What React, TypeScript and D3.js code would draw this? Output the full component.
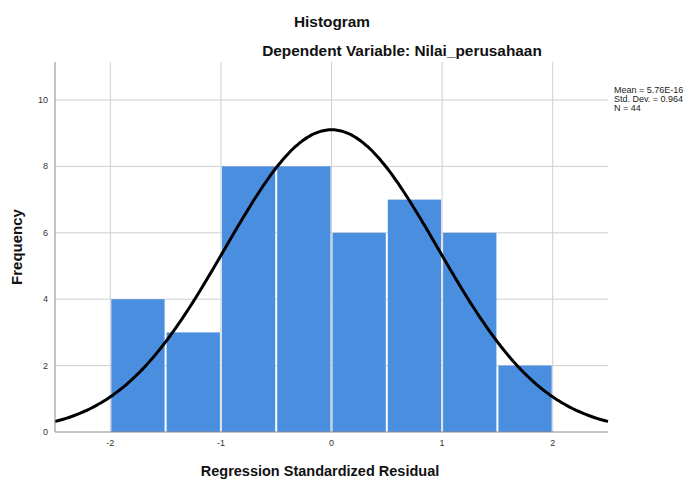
import React from "react";
import * as d3 from "d3";

const binStarts = [-2, -1.5, -1, -0.5, 0, 0.5, 1, 1.5];
const binWidth = 0.5;
const counts = [4, 3, 8, 8, 6, 7, 6, 2];
const xTicks = [-2, -1, 0, 1, 2];
const yTicks = [0, 2, 4, 6, 8, 10];
const statsLines = ["Mean = 5.76E-16", "Std. Dev. = 0.964", "N = 44"];
const mean = 0;
const sd = 0.964;
const n = 44;

const W = 696, H = 480;
const left = 55, right = 608, top = 62, bottom = 432;

export default function App() {
  const x = d3.scaleLinear().domain([-2.5, 2.5]).range([left, right]);
  const y = d3.scaleLinear().domain([0, 10]).range([bottom, 100]);
  const font = "'Liberation Sans', Arial, sans-serif";

  const curvePts = d3.range(0, 201).map((i) => {
    const v = -2.5 + (5 * i) / 200;
    const d = (n * binWidth) / (sd * Math.sqrt(2 * Math.PI)) * Math.exp(-0.5 * ((v - mean) / sd) ** 2);
    return [v, d] as [number, number];
  });
  const line = d3.line<[number, number]>().x((d) => x(d[0])).y((d) => y(d[1])).curve(d3.curveBasis);

  return (
    <svg width={W} height={H} style={{ position: "absolute", left: 0, top: 0, background: "#fff" }}>
      <rect x={0} y={0} width={W} height={H} fill="#fff" />
      {yTicks.filter((t) => t > 0).map((t) => (
        <line key={"gy" + t} x1={left} x2={right} y1={y(t)} y2={y(t)} stroke="#cfcfcf" strokeWidth={1} />
      ))}
      {xTicks.map((t) => (
        <line key={"gx" + t} x1={x(t)} x2={x(t)} y1={top} y2={bottom} stroke="#cfcfcf" strokeWidth={1} />
      ))}
      {binStarts.map((b, i) => (
        <rect
          key={"b" + i}
          x={x(b) + 1}
          y={y(counts[i])}
          width={x(b + binWidth) - x(b) - 2}
          height={y(0) - y(counts[i])}
          fill="#4a8ee0"
        />
      ))}
      <path d={line(curvePts) || ""} fill="none" stroke="#000" strokeWidth={3} />
      <line x1={left} x2={left} y1={top} y2={bottom} stroke="#8a8a8a" strokeWidth={1} />
      <line x1={left} x2={right} y1={bottom} y2={bottom} stroke="#8a8a8a" strokeWidth={1} />
      {yTicks.map((t) => (
        <text key={"ty" + t} x={48} y={y(t) + 3} fontSize={9} fontFamily={font} fill="#333" textAnchor="end">
          {t}
        </text>
      ))}
      {xTicks.map((t) => (
        <text key={"tx" + t} x={x(t)} y={446} fontSize={9} fontFamily={font} fill="#333" textAnchor="middle">
          {t}
        </text>
      ))}
      <text x={332} y={27} fontSize={15.4} fontWeight="bold" fontFamily={font} fill="#111" textAnchor="middle">
        Histogram
      </text>
      <text x={402} y={56} fontSize={15.4} fontWeight="bold" fontFamily={font} fill="#111" textAnchor="middle">
        Dependent Variable: Nilai_perusahaan
      </text>
      <text x={320} y={476} fontSize={14.5} fontWeight="bold" fontFamily={font} fill="#111" textAnchor="middle">
        Regression Standardized Residual
      </text>
      <text
        transform={`translate(22,247) rotate(-90)`}
        fontSize={15}
        fontWeight="bold"
        fontFamily={font}
        fill="#111"
        textAnchor="middle"
      >
        Frequency
      </text>
      {statsLines.map((s, i) => (
        <text key={"s" + i} x={614} y={93 + i * 9} fontSize={9} fontFamily={font} fill="#222">
          {s}
        </text>
      ))}
    </svg>
  );
}
